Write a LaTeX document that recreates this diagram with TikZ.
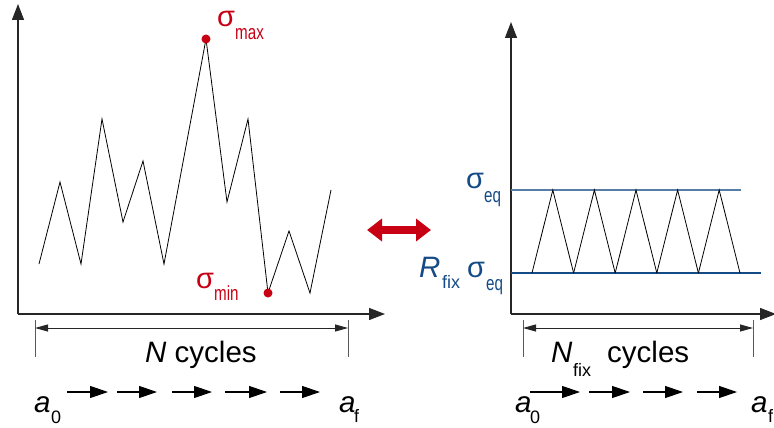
\documentclass[tikz,border=0pt]{standalone}
\usepackage{fontspec}
\setmainfont{Liberation Sans}
\usetikzlibrary{arrows.meta, positioning}
\definecolor{peakred}{RGB}{200,0,20}
\definecolor{eqblue}{RGB}{20,75,135}
\definecolor{lineblue}{RGB}{85,125,165}
\newcommand{\narrow}[1]{\scalebox{0.74}[1]{#1}}

\begin{document}
\begin{tikzpicture}[x=1pt, y=-1pt,
        axis/.style={black!85, line width=1.3pt, -{Triangle[length=16pt, width=12pt]}},
        signal/.style={black, line width=0.8pt, line join=miter},
        dimline/.style={black!85, line width=1pt, {Triangle[length=13pt, width=7pt]}-{Triangle[length=13pt, width=7pt]}},
        tickline/.style={black!65, line width=0.9pt},
        chain/.style={black, line width=1.2pt, -{Triangle[length=18pt, width=12pt]}},
        swap/.style={peakred, line width=8pt, {Triangle[length=15pt, width=22pt]}-{Triangle[length=15pt, width=22pt]}},
        big/.style={font=\fontsize{29.5}{32}\selectfont, inner sep=0pt, anchor=base west},
        greek/.style={font=\fontsize{29}{32}\selectfont, inner sep=0pt, anchor=base west},
        sub/.style={font=\fontsize{20.5}{22}\selectfont, inner sep=0pt, anchor=base west},
        smallsub/.style={font=\fontsize{18}{20}\selectfont, inner sep=0pt, anchor=base west},
        dot/.style={circle, fill=peakred, inner sep=0pt, minimum size=9pt}
    ]
        \useasboundingbox (0,0) rectangle (774,428);

        % Linke Seite: Lastfolge mit variabler Amplitude
        \coordinate (o1) at (18,314);
        \coordinate (y1) at (18,4);
        \coordinate (x1) at (385,314);
        \draw[axis] (o1) -- (y1);
        \draw[axis] (o1) -- (x1);

        \draw[signal] (39,264) -- (60,182) -- (81,264) -- (102,119) -- (123,222) -- (143,161)
            -- (164,264) -- (206,39) -- (227,202) -- (248,119) -- (268,293) -- (289,231)
            -- (310,293) -- (331,190);

        \node[dot] (smax) at (206,39) {};
        \node[dot] (smin) at (268,293) {};
        \node[greek, peakred] (smaxs) at (217,27) {σ};
        \node[sub, peakred] at (235,40) {\narrow{max}};
        \node[greek, peakred] (smins) at (196,288) {σ};
        \node[sub, peakred] at (214,300) {\narrow{min}};

        % Pfeil zwischen den Diagrammen
        \coordinate (swl) at (367,230);
        \coordinate (swr) at (431,230);
        \draw[swap] (swl) -- (swr);

        % Rechte Seite: konstante Amplitude
        \coordinate (o2) at (511,314);
        \coordinate (y2) at (511,22);
        \coordinate (x2) at (776,314);
        \draw[axis] (o2) -- (y2);
        \draw[axis] (o2) -- (x2);

        \draw[lineblue, line width=1.1pt] (511,190) -- (741,190);
        \draw[eqblue, line width=1.1pt] (511,273) -- (761,273);

        \foreach \i in {0,...,4}
            \draw[signal] (532+41.6*\i,273) -- (552.8+41.6*\i,190) -- (573.6+41.6*\i,273);

        \node[greek, eqblue] at (466,188) {σ};
        \node[sub, eqblue] at (484,202) {\narrow{eq}};
        \node[big, eqblue] at (419,277) {\textit{R}};
        \node[smallsub, eqblue] at (442,288) {fix};
        \node[greek, eqblue] at (467,277) {σ};
        \node[sub, eqblue] at (486,290) {\narrow{eq}};

        % Zyklenzahl
        \draw[tickline] (35,320) -- (35,357);
        \draw[tickline] (348,320) -- (348,357);
        \coordinate (nl) at (35,328);
        \coordinate (nr) at (348,328);
        \draw[dimline] (nl) -- (nr);
        \node[big] (ncyc) at (145,362) {\textit{N} cycles};

        \draw[tickline] (523,320) -- (523,357);
        \draw[tickline] (753,320) -- (753,357);
        \coordinate (fl) at (523,328);
        \coordinate (fr) at (753,328);
        \draw[dimline] (fl) -- (fr);
        \node[big] (nfix) at (551,362) {\textit{N}};
        \node[smallsub] at (573,376) {fix};
        \node[big] at (607,362) {cycles};

        % Risswachstum a0 -> af
        \node[big] (a0l) at (34,412) {\textit{a}};
        \node[smallsub] at (51,423) {0};
        \node[big] (afl) at (339,412) {\textit{a}};
        \node[smallsub] at (354,422) {f};
        \foreach \s/\e in {67/108, 117/157, 172/212, 225/267, 280/320}
            \draw[chain] (\s,392) -- (\e,392);

        \node[big] (a0r) at (515,412) {\textit{a}};
        \node[smallsub] at (530,423) {0};
        \node[big] (afr) at (751,412) {\textit{a}};
        \node[smallsub] at (768,422) {f};
        \foreach \s/\e in {530/580, 589/630, 643/683, 697/737}
            \draw[chain] (\s,392) -- (\e,392);
    \end{tikzpicture}
\end{document}
